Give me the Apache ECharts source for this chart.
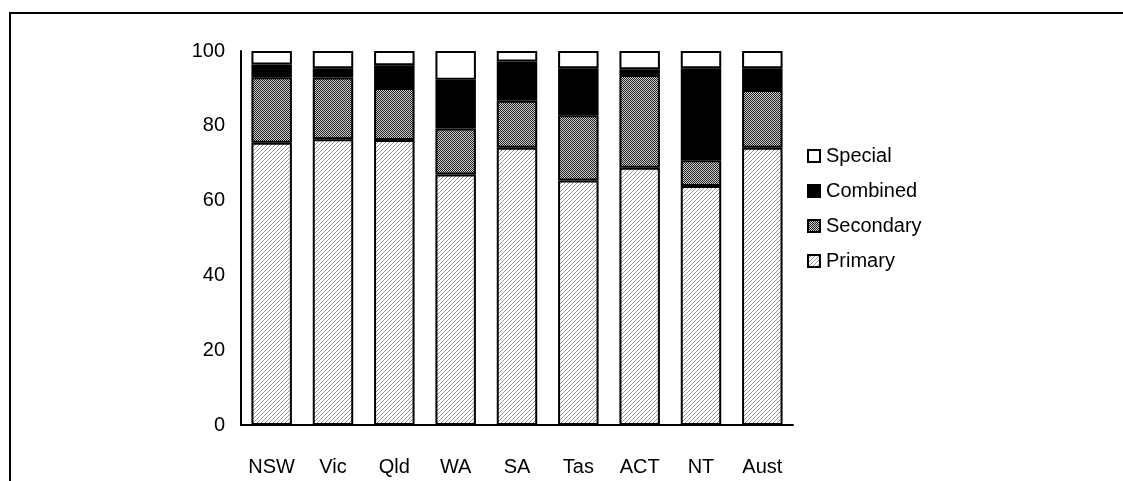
<!DOCTYPE html>
<html>
<head>
<meta charset="utf-8">
<script src="https://cdn.jsdelivr.net/npm/echarts@6/dist/echarts.min.js"></script>
<style>
  html, body { margin: 0; padding: 0; background: #fff; }
  #chart { width: 1123px; height: 481px; }
</style>
</head>
<body>
<div id="chart"></div>
<script>
// School share (%) by state and school type
const categories = ['NSW', 'Vic', 'Qld', 'WA', 'SA', 'Tas', 'ACT', 'NT', 'Aust'];
const primary   = [75.5, 76.4, 76.2, 67.0, 74.1, 65.4, 68.8, 63.9, 74.1];
const secondary = [17.5, 16.5, 13.9, 12.3, 12.6, 17.4, 24.8,  6.9, 15.5];
const combined  = [ 3.4,  2.5,  6.1, 13.0, 10.5, 12.6,  1.5, 24.6,  5.8];
const special   = [ 3.6,  4.6,  3.8,  7.7,  2.8,  4.6,  4.9,  4.6,  4.6];
const yTicks = [0, 20, 40, 60, 80, 100];

// Fine diagonal hatch for primary schools
function hatchPattern() {
  const c = document.createElement('canvas');
  c.width = 4; c.height = 4;
  const g = c.getContext('2d');
  g.fillStyle = '#ffffff';
  g.fillRect(0, 0, 4, 4);
  g.fillStyle = '#9a9a9a';
  for (let i = 0; i < 4; i++) {
    g.fillRect(3 - i, i, 1, 1);
  }
  return { image: c, repeat: 'repeat' };
}

// Dense checker dots for secondary schools
function checkerPattern() {
  const c = document.createElement('canvas');
  c.width = 2; c.height = 2;
  const g = c.getContext('2d');
  g.fillStyle = '#cfcfcf';
  g.fillRect(0, 0, 2, 2);
  g.fillStyle = '#202020';
  g.fillRect(0, 0, 1, 1);
  g.fillRect(1, 1, 1, 1);
  return { image: c, repeat: 'repeat' };
}

const font = 'Liberation Sans, Arial, sans-serif';
const edge = { borderColor: '#000', borderWidth: 2 };

function series(name, data, fill) {
  return {
    name: name,
    type: 'bar',
    stack: 'total',
    barWidth: '66%',
    data: data,
    itemStyle: Object.assign({ color: fill }, edge),
    emphasis: { disabled: true }
  };
}

const chart = echarts.init(document.getElementById('chart'), null, { renderer: 'canvas' });
chart.setOption({
  animation: false,
  backgroundColor: '#ffffff',
  grid: { left: 241, right: 330, top: 51, bottom: 56 },
  graphic: [{
    type: 'rect',
    shape: { x: 10, y: 13, width: 1200, height: 600 },
    style: { fill: 'none', stroke: '#000', lineWidth: 2 },
    silent: true
  }],
  legend: {
    orient: 'vertical',
    left: 807,
    top: 146,
    padding: 0,
    itemWidth: 12,
    itemHeight: 12,
    itemGap: 15,
    icon: 'rect',
    data: ['Special', 'Combined', 'Secondary', 'Primary'],
    textStyle: { fontFamily: font, fontSize: 20, color: '#000', padding: [0, 0, 0, 1] }
  },
  xAxis: {
    type: 'category',
    data: categories,
    axisLine: { lineStyle: { color: '#000', width: 2 } },
    axisTick: { show: false },
    axisLabel: { fontFamily: font, fontSize: 20, color: '#000', margin: 32 }
  },
  yAxis: {
    type: 'value',
    min: yTicks[0],
    max: yTicks[yTicks.length - 1],
    interval: yTicks[1] - yTicks[0],
    axisLine: { show: true, lineStyle: { color: '#000', width: 2 } },
    axisTick: { show: false },
    splitLine: { show: false },
    axisLabel: { fontFamily: font, fontSize: 20, color: '#000', margin: 16 }
  },
  series: [
    series('Primary', primary, hatchPattern()),
    series('Secondary', secondary, checkerPattern()),
    series('Combined', combined, '#000000'),
    series('Special', special, '#ffffff')
  ]
});
</script>
</body>
</html>
